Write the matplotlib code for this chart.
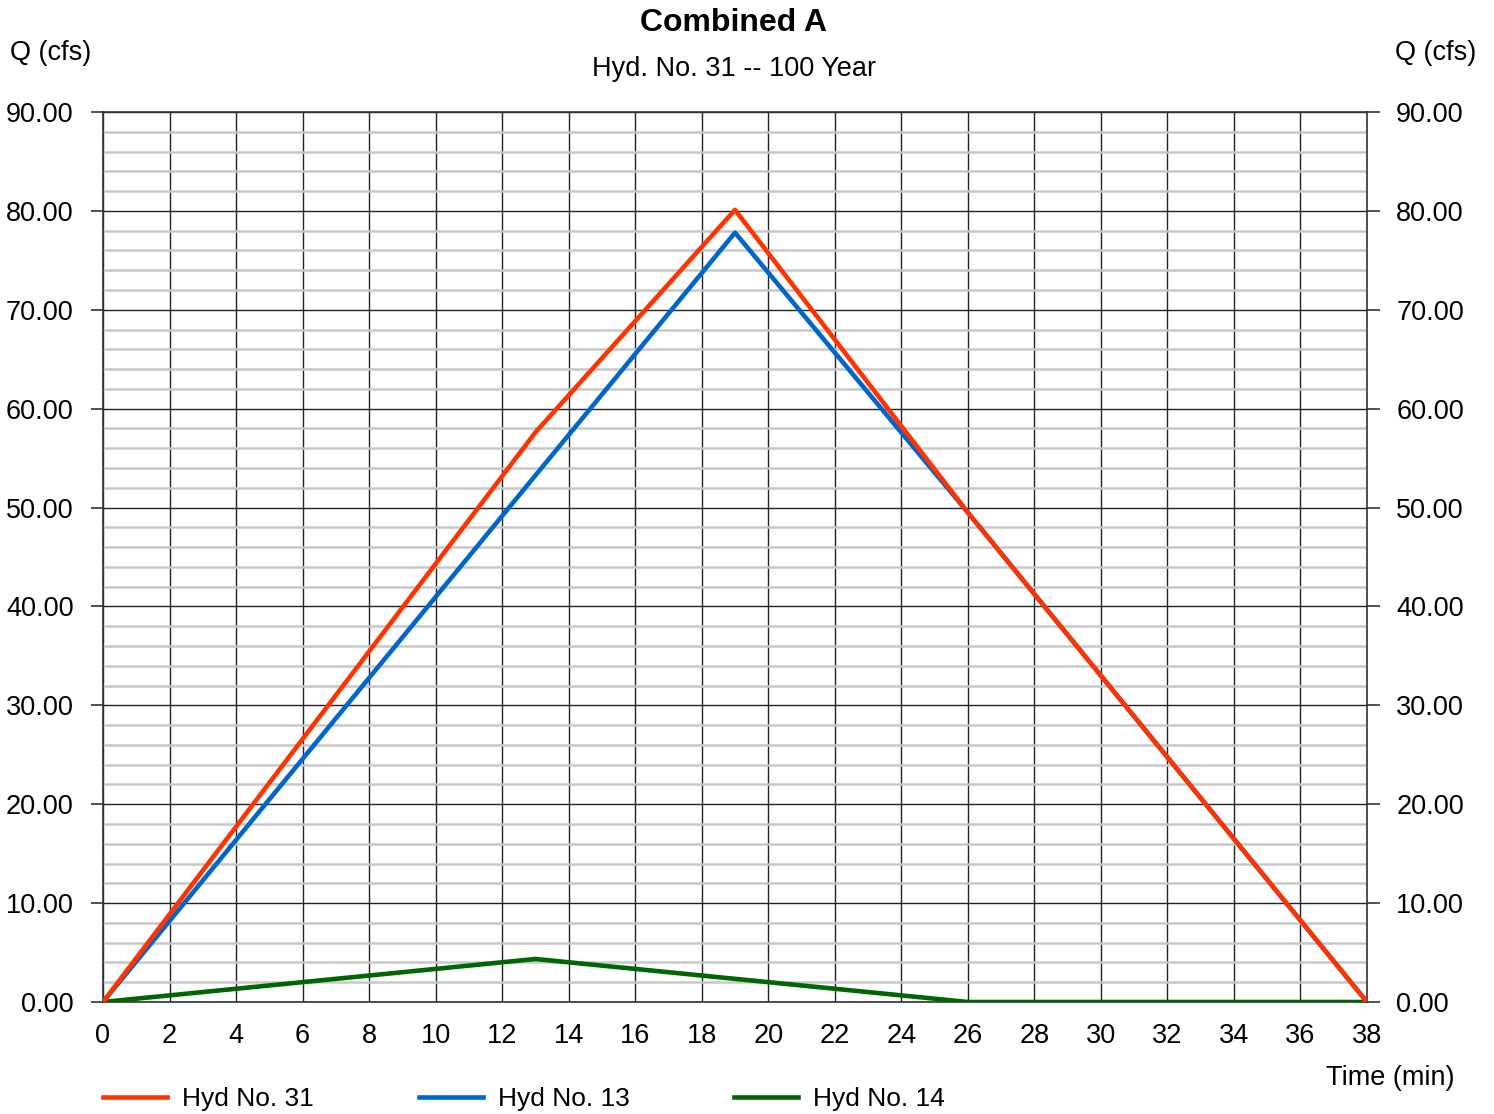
import matplotlib
matplotlib.use("Agg")
import matplotlib.pyplot as plt
from matplotlib.ticker import MultipleLocator, FormatStrFormatter

plt.rcParams["font.family"] = ["Liberation Sans", "DejaVu Sans"]

# hydrograph data (time in min, flow in cfs)
time_31 = [0, 13, 19, 26, 38]
flow_31 = [0.0, 57.6, 80.1, 49.5, 0.0]

time_13 = [0, 13, 19, 26, 38]
flow_13 = [0.0, 53.25, 77.8, 49.5, 0.0]

time_14 = [0, 13, 26, 38]
flow_14 = [0.0, 4.35, 0.0, 0.0]

series_names = ["Hyd No. 31", "Hyd No. 13", "Hyd No. 14"]
series_colors = ["#FF3300", "#0066CC", "#006600"]

FS = 19.5

fig = plt.figure(figsize=(14.94, 11.14), dpi=100)
ax = fig.add_axes([103 / 1494, 1 - 1002 / 1114, 1264 / 1494, 890 / 1114])

ax.set_xlim(0, 38)
ax.set_ylim(0, 90)

# grid
ax.xaxis.set_major_locator(MultipleLocator(2))
ax.yaxis.set_major_locator(MultipleLocator(10))
ax.yaxis.set_minor_locator(MultipleLocator(2))
ax.yaxis.set_major_formatter(FormatStrFormatter("%.2f"))
ax.grid(which="minor", axis="y", color="#C8C8C8", linewidth=1.8, zorder=0)
ax.grid(which="major", axis="y", color="#222222", linewidth=1.0, zorder=1)
ax.grid(which="major", axis="x", color="#222222", linewidth=1.0, zorder=1)

# green first so the others sit on top
l14, = ax.plot(time_14, flow_14, color=series_colors[2], linewidth=3.3, zorder=3, label=series_names[2])
l13, = ax.plot(time_13, flow_13, color=series_colors[1], linewidth=3.3, zorder=4, label=series_names[1])
l31, = ax.plot(time_31, flow_31, color=series_colors[0], linewidth=3.3, zorder=5, label=series_names[0])

for s in ax.spines.values():
    s.set_color("#333333")
    s.set_linewidth(1.2)

ax.tick_params(axis="x", length=0, pad=15, labelsize=FS)
ax.tick_params(axis="y", which="major", length=9, width=1.2, color="#333333", pad=12, labelsize=FS)
ax.tick_params(axis="y", which="minor", length=0)

ax2 = ax.twinx()
ax2.set_ylim(ax.get_ylim())
ax2.yaxis.set_major_locator(MultipleLocator(10))
ax2.yaxis.set_major_formatter(FormatStrFormatter("%.2f"))
ax2.tick_params(axis="y", length=9, width=1.2, color="#333333", pad=12, labelsize=FS)
for s in ax2.spines.values():
    s.set_visible(False)

fig.text(734 / 1494, 1 - 23 / 1114, "Combined A", ha="center", va="center",
         fontsize=23, fontweight="bold")
fig.text(734 / 1494, 1 - 69 / 1114, "Hyd. No. 31 -- 100 Year", ha="center", va="center",
         fontsize=FS)
fig.text(10 / 1494, 1 - 53 / 1114, "Q (cfs)", ha="left", va="center", fontsize=FS)
fig.text(1476 / 1494, 1 - 53 / 1114, "Q (cfs)", ha="right", va="center", fontsize=FS)
fig.text(1455 / 1494, 1 - 1078 / 1114, "Time (min)", ha="right", va="center", fontsize=FS)

fig.legend(handles=[l31, l13, l14], loc="center left",
           bbox_to_anchor=(103 / 1494, 1 - 1099 / 1114), ncol=3, frameon=False,
           fontsize=19, handlelength=2.42, handletextpad=0.57, columnspacing=3.98,
           borderaxespad=0, borderpad=0)

fig.savefig("out.png", dpi=100)
